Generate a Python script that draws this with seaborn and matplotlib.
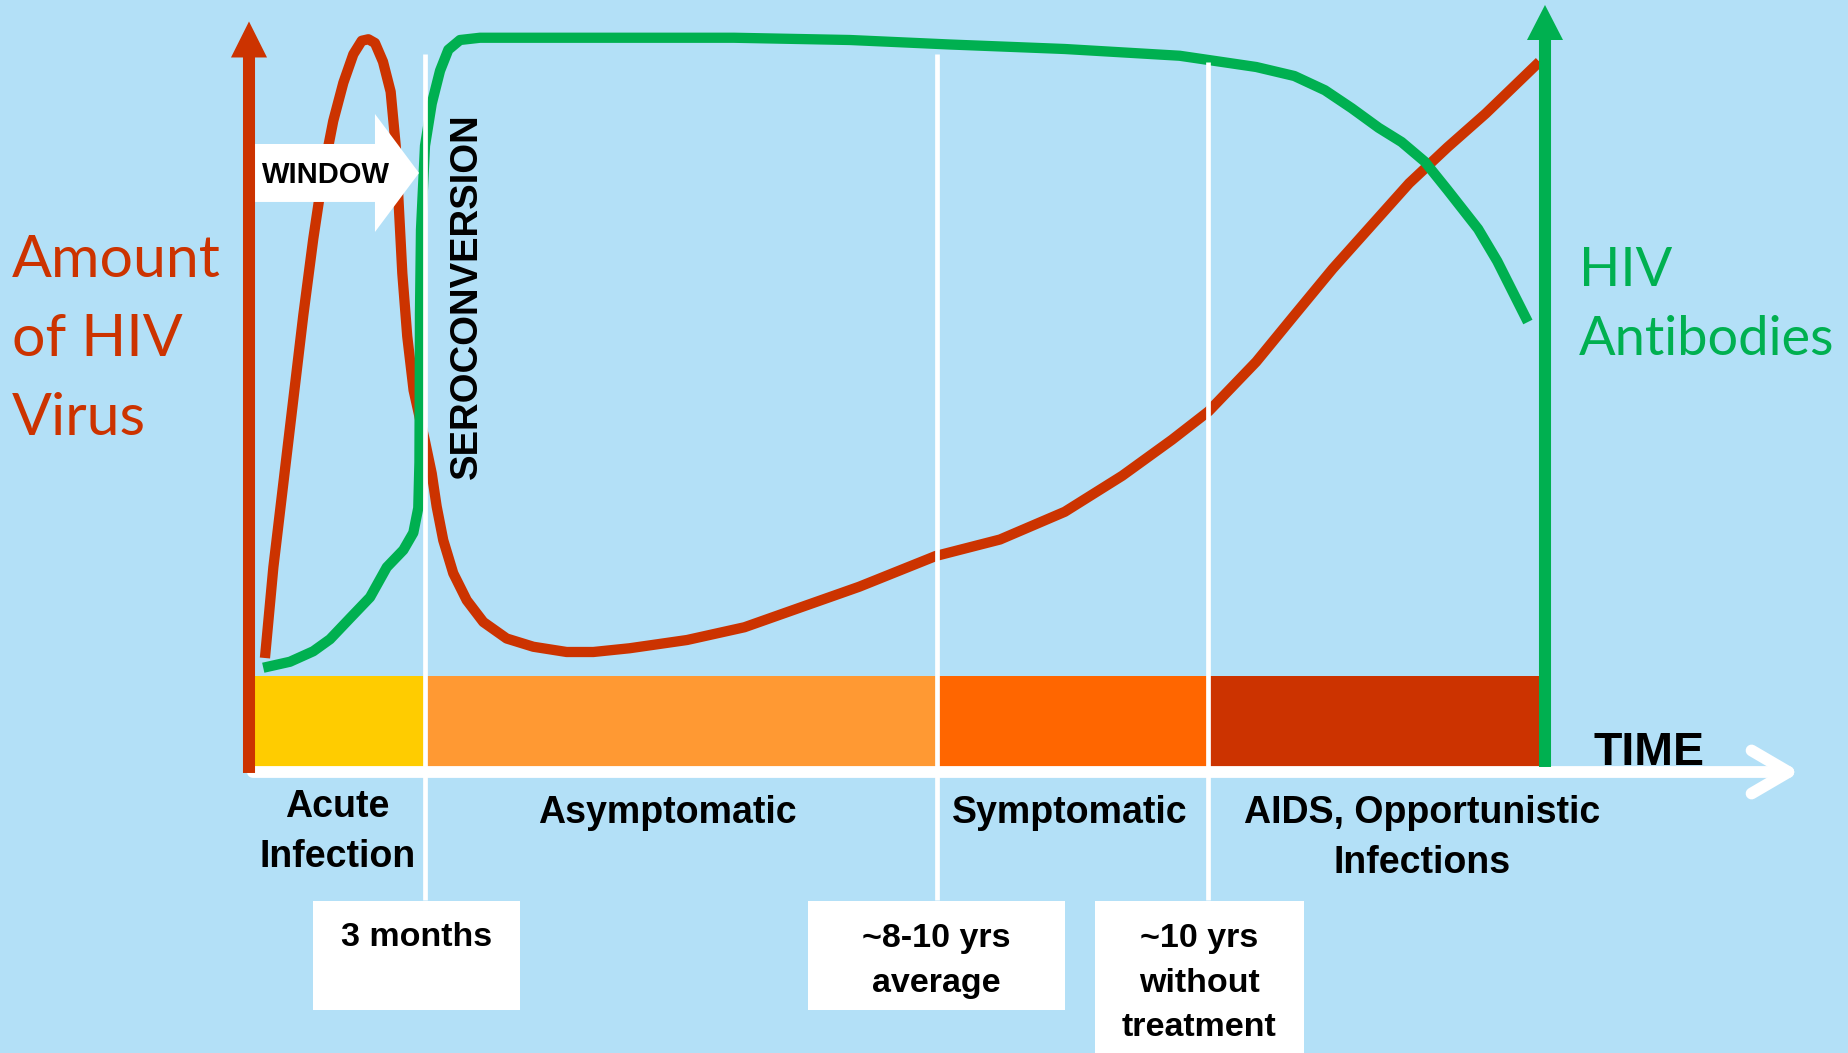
import numpy as np
import pandas as pd
import matplotlib
matplotlib.use("Agg")
import matplotlib.pyplot as plt
from matplotlib import font_manager
from matplotlib.patches import Rectangle
import seaborn as sns

# ---- data (time: 0 = infection .. 100 = end of axis, level: 0 .. 100) ----
virus_t = [1.23, 1.88, 2.65, 3.42, 4.19, 4.96, 5.73, 6.50, 7.28, 8.05, 8.70, 9.21, 9.72,
           10.34, 10.93, 11.32, 11.57, 11.83, 12.21, 12.70, 13.58, 14.10, 14.48, 14.99,
           15.76, 16.80, 18.08, 19.88, 21.94, 24.51, 26.57, 29.37, 33.80, 38.23, 42.65,
           47.08, 52.99, 57.95, 62.95, 67.38, 71.22, 74.05, 77.72, 80.66, 83.62, 86.57,
           89.52, 92.48, 95.43, 99.57]
virus_lvl = [15.2, 27.3, 38.5, 49.7, 60.9, 71.1, 80.0, 86.8, 91.9, 95.7, 97.5, 97.7, 97.2,
             94.7, 90.7, 83.5, 75.1, 66.5, 58.1, 50.9, 44.1, 39.8, 35.4, 30.9,
             26.5, 22.9, 20.0, 17.8, 16.7, 16.0, 16.0, 16.5, 17.6, 19.3, 22.0,
             24.7, 28.8, 31.0, 34.7, 39.5, 44.3, 48.1, 54.7, 60.9, 67.1, 72.8,
             78.5, 83.3, 87.8, 94.7]

antibody_t = [1.10, 3.16, 4.96, 6.25, 7.79, 9.34, 10.63, 11.91, 12.68, 13.06, 13.15, 13.17,
              13.19, 13.27, 13.58, 14.10, 14.74, 15.38, 16.28, 17.82, 27.08, 37.42, 46.37,
              54.09, 62.95, 71.81, 77.72, 80.66, 83.02, 85.09, 87.16, 88.93, 90.71, 92.48,
              94.84, 96.32, 98.68]
antibody_lvl = [13.9, 14.7, 16.1, 17.7, 20.5, 23.3, 27.3, 29.6, 31.9, 35.2, 41.3, 49.7,
                60.9, 72.3, 83.5, 89.1, 93.5, 96.3, 97.6, 97.9, 97.9, 97.9, 97.6,
                97.0, 96.4, 95.5, 94.0, 92.8, 90.9, 88.5, 85.9, 84.0, 81.4, 77.6,
                72.4, 68.1, 60.0]

stage_edges = [0, 13.6, 53.1, 74.0, 100]
stage_names = ['Acute\nInfection', 'Asymptomatic', 'Symptomatic',
               'AIDS, Opportunistic\nInfections']
stage_colors = ['#FFCC00', '#FF9933', '#FF6600', '#CC3300']

milestone_t = [13.6, 53.1, 74.0]
milestone_labels = ['3 months', '~8-10 yrs\naverage', '~10 yrs\nwithout\ntreatment']

# ---- style ----
RED = '#CC3300'
GREEN = '#00B050'
BG = '#B3E0F7'

sns.set_style("white")
names = {f.name for f in font_manager.fontManager.ttflist}
bold_font = 'Liberation Sans' if 'Liberation Sans' in names else 'DejaVu Sans'
body_font = 'Lato' if 'Lato' in names else 'DejaVu Sans'
plt.rcParams['font.family'] = [bold_font, 'DejaVu Sans']

W, H = 1849, 1053
T_PX, L_PX = 12.96, 7.5      # pixels per time / level unit
X0_PX, Y0_PX = 249, 772      # origin of the time axis

fig = plt.figure(figsize=(W / 100, H / 100), dpi=100, facecolor=BG)
ax = fig.add_axes([0, 0, 1, 1], facecolor=BG)

# stage bars
lefts = np.array(stage_edges[:-1])
widths = np.diff(stage_edges)
ax.bar(lefts, 12.8, width=widths, bottom=0, align='edge', color=stage_colors,
       linewidth=0, zorder=1)

# curves
virus = pd.DataFrame({'time': virus_t, 'level': virus_lvl})
antib = pd.DataFrame({'time': antibody_t, 'level': antibody_lvl})
for df, col in [(virus, RED), (antib, GREEN)]:
    sns.lineplot(data=df, x='time', y='level', sort=False, estimator=None, ax=ax,
                 color=col, linewidth=7.4, solid_capstyle='butt',
                 solid_joinstyle='round', zorder=3)

ax.set_xlim(-X0_PX / T_PX, (W - X0_PX) / T_PX)
ax.set_ylim(-(H - Y0_PX) / L_PX, Y0_PX / L_PX)
ax.axis('off')

# milestone separators
ax.vlines(milestone_t, -17.1, [95.7, 95.7, 94.7], color='white', linewidth=3.4, zorder=4)

# axes arrows
ax.arrow(0, -0.13, 0, 100.2, width=0.93, head_width=2.78, head_length=4.8,
         length_includes_head=True, color=RED, linewidth=0, zorder=6)
ax.arrow(100, 0.67, 0, 101.6, width=0.93, head_width=2.78, head_length=4.67,
         length_includes_head=True, color=GREEN, linewidth=0, zorder=6)
ax.annotate('', xy=(119.68, 0), xytext=(0.3, 0),
            arrowprops=dict(arrowstyle='->,head_length=26.5,head_width=15.5',
                            mutation_scale=1, color='white', lw=8.5,
                            shrinkA=0, shrinkB=0, capstyle='round', joinstyle='round'),
            zorder=5)

# window arrow
ax.arrow(0.46, 79.87, 12.66, 0, width=7.73, head_width=15.73, head_length=3.4,
         length_includes_head=True, color='white', linewidth=0, zorder=5)
ax.text(5.94, 78.5, 'WINDOW', ha='center', va='baseline', fontsize=21,
        fontweight='bold', color='black', zorder=7)
ax.text(16.8, 63.5, 'SEROCONVERSION', rotation=90, ha='center', va='center',
        fontsize=27.5, fontweight='bold', color='black', zorder=7)

# stage labels (y = baseline of the last line)
label_x = [6.8, 32.3, 63.3, 90.5]
label_y = [-12.67, -6.8, -6.8, -13.47]
for x, y, s in zip(label_x, label_y, stage_names):
    ax.text(x, y, s, ha='center', va='baseline', fontsize=27, fontweight='bold',
            linespacing=1.5, color='black')

ax.text(108.0, 0.93, 'TIME', ha='center', va='baseline', fontsize=33.5,
        fontweight='bold', color='black')

# milestone boxes
box_left = [4.94, 43.13, 65.28]
box_right = [20.91, 62.96, 81.4]
box_bottom = [-31.7, -31.7, -37.5]
text_y = [-23.2, -29.3, -35.2]
for l, r, b, ty, s in zip(box_left, box_right, box_bottom, text_y, milestone_labels):
    ax.add_patch(Rectangle((l, b), r - l, -17.2 - b, facecolor='white',
                           edgecolor='none', zorder=4))
    ax.text((l + r) / 2, ty, s, ha='center', va='baseline', fontsize=24.5,
            fontweight='bold', linespacing=1.56, color='black', zorder=5)

# side titles
ax.text(-18.3, 44.93, 'Amount\nof HIV\nVirus', ha='left', va='baseline',
        fontsize=42.5, family=[body_font, 'DejaVu Sans'], color=RED, linespacing=1.6)
ax.text(102.6, 55.6, 'HIV\nAntibodies', ha='left', va='baseline',
        fontsize=39, family=[body_font, 'DejaVu Sans'], color=GREEN, linespacing=1.5)

fig.savefig('out.png', dpi=100, facecolor=BG)
